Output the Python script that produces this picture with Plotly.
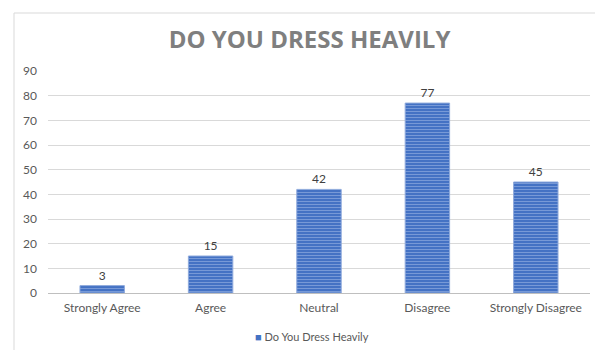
import plotly.graph_objects as go

categories = ["Strongly Agree", "Agree", "Neutral", "Disagree", "Strongly Disagree"]
values = [3, 15, 42, 77, 45]
series_name = "Do You Dress Heavily"
title_text = "DO YOU DRESS HEAVILY"
y_ticks = [0, 10, 20, 30, 40, 50, 60, 70, 80, 90]

L, R, T, B = 48, 5, 71, 57
W, H = 595, 350
pw = W - L - R
ph = H - T - B

fig = go.Figure()
fig.add_trace(go.Bar(
    x=categories, y=values, name=series_name,
    text=[str(v) for v in values], textposition="outside",
    textfont=dict(family="Lato, Open Sans, sans-serif", size=12, color="#404040"),
    cliponaxis=False,
    width=0.41,
    showlegend=False,
    marker=dict(
        color="#4472C4",
        line=dict(color="#8FAADC", width=1),
        pattern=dict(shape="-", fgcolor="#A9C0EA", bgcolor="#4472C4", size=3, solidity=0.35),
    ),
))

fig.update_layout(
    width=W, height=H,
    margin=dict(l=L, r=R, t=T, b=B, autoexpand=False),
    paper_bgcolor="white", plot_bgcolor="white",
    title=dict(text="<b>" + title_text + "</b>", x=309.5 / W, xanchor="center",
               y=1 - 40 / H, yanchor="middle",
               font=dict(family="Open Sans, sans-serif", size=24, color="#7F7F7F")),
    showlegend=False,
    bargap=0.59,
    font=dict(family="Lato, Open Sans, sans-serif", size=12, color="#595959"),
)
fig.update_xaxes(showgrid=False, showline=True, linecolor="#BFBFBF", linewidth=1,
                 tickfont=dict(size=12, color="#595959"), ticks="", ticklabelstandoff=4,
                 automargin=False)
fig.update_yaxes(range=[0, 90], tickvals=y_ticks, showgrid=True, gridcolor="#D9D9D9",
                 gridwidth=1, zeroline=False, showline=False, ticks="",
                 tickfont=dict(size=12, color="#595959"), ticklabelstandoff=10,
                 automargin=False)

# legend (Excel-style: small square + label)
fig.add_annotation(
    xref="paper", yref="paper", x=(253 - L) / pw, xanchor="left",
    y=-(336 - (T + ph)) / ph, yanchor="middle", showarrow=False,
    text="<span style='color:#4472C4'>■</span> " + series_name,
    font=dict(family="Lato, Open Sans, sans-serif", size=11, color="#595959"),
)

# chart-area border
fig.add_shape(type="rect", xref="paper", yref="paper",
              x0=(14 - L) / pw, x1=1.2, y0=-0.6, y1=(T + ph - 13) / ph,
              line=dict(color="#D9D9D9", width=1), fillcolor="rgba(0,0,0,0)", layer="below")

fig.write_html("out.html")
